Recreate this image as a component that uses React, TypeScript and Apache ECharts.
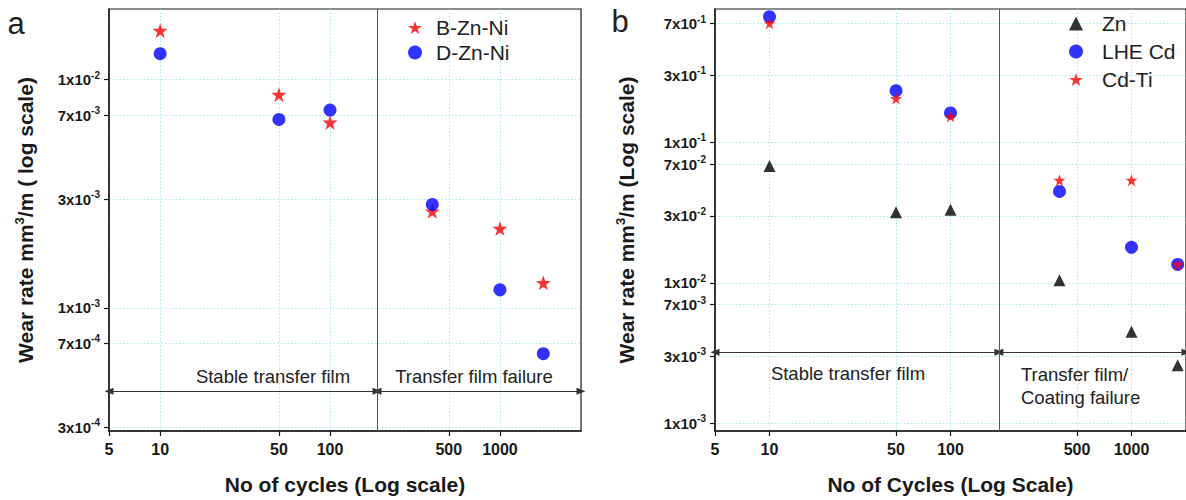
import React, { useEffect, useRef } from 'react';
import * as echarts from 'echarts';

// ---------- data ----------
const cyclesA = [10, 50, 100, 400, 1000, 1800];
const bZnNi = [0.0164, 0.0086, 0.0065, 0.00265, 0.00223, 0.00129];
const dZnNi = [0.013, 0.0067, 0.00736, 0.00284, 0.0012, 0.00063];

const cyclesB = [10, 50, 100, 400, 1000, 1800];
const zn = [0.0679, 0.0318, 0.0331, 0.0104, 0.00448, 0.00259];
const lheCd = [0.785, 0.233, 0.162, 0.0447, 0.0179, 0.0135];
const cdTi = [0.704, 0.205, 0.153, 0.0537, 0.0537, 0.0135];

const xTicks = [5, 10, 50, 100, 500, 1000];
const yTicksA = [3e-4, 7e-4, 1e-3, 3e-3, 7e-3, 1e-2];
const yTicksB = [1e-3, 3e-3, 7e-3, 1e-2, 3e-2, 7e-2, 1e-1, 3e-1, 7e-1];

const xRangeA = [5, 3000];
const xRangeB = [5, 2000];
const yRangeA = [2.89e-4, 2.04e-2];
const yRangeB = [8.8e-4, 0.89];

const boundaryA = 189; // stable film -> failure (cycles)
const boundaryB = 185;
const arrowLevelA = 4.32e-4;
const arrowLevelB = 3.2e-3;

const STAR =
  'path://M50,0 L61.8,35.1 L98.9,35.1 L68.9,56.9 L80.2,92.1 L50,70.4 L19.8,92.1 L31.1,56.9 L1.1,35.1 L38.2,35.1 Z';

const FONT = '"Liberation Sans", Arial, Helvetica, sans-serif';
const INK = '#1a1a1a';
const GRIDC = '#8fe2e8';

const sciLabel = (v: number) => {
  const e = Math.floor(Math.log10(v) + 1e-9);
  const m = Math.round(v / Math.pow(10, e));
  return `{m|${m}x10}{s|${e}}`;
};

const yRich = {
  m: { fontSize: 15, fontWeight: 'bold', color: INK, fontFamily: FONT },
  s: { fontSize: 10, fontWeight: 'bold', color: INK, fontFamily: FONT, lineHeight: 10, padding: [0, 0, 9, 0] },
};

const pairs = (xs: number[], ys: number[]) => xs.map((x, i) => [x, ys[i]]);

const gridLineStyle = { color: GRIDC, type: [1.5, 2], width: 1, opacity: 0.8 };

function makeX(idx: number, range: number[], name: string) {
  return {
    type: 'log',
    gridIndex: idx,
    logBase: 10,
    min: range[0],
    max: range[1],
    name,
    nameLocation: 'middle',
    nameGap: 43,
    nameTextStyle: { fontSize: 21, fontWeight: 'bold', color: INK, fontFamily: FONT },
    axisLine: { show: true, lineStyle: { color: INK, width: 1.5 } },
    axisTick: { show: true, inside: false, length: 5, lineStyle: { color: INK, width: 1.2 }, customValues: xTicks },
    axisLabel: {
      customValues: xTicks,
      margin: 10,
      fontSize: 16,
      fontWeight: 'bold',
      color: INK,
      fontFamily: FONT,
      formatter: (v: number) => String(Math.round(v)),
    },
    splitLine: { show: true, lineStyle: gridLineStyle },
  };
}

function makeY(idx: number, range: number[], ticks: number[], nameParts: string[], gap: number) {
  return {
    type: 'log',
    gridIndex: idx,
    logBase: 10,
    min: range[0],
    max: range[1],
    name: `{t|${nameParts[0]}}{s|3}{t|${nameParts[1]}}`,
    nameLocation: 'middle',
    nameGap: gap,
    nameRotate: 90,
    nameTextStyle: {
      rich: {
        t: { fontSize: 21, fontWeight: 'bold', color: INK, fontFamily: FONT },
        s: { fontSize: 13, fontWeight: 'bold', color: INK, fontFamily: FONT, lineHeight: 13, padding: [0, 0, 12, 0] },
      },
    },
    axisLine: { show: true, lineStyle: { color: INK, width: 1.5 } },
    axisTick: { show: true, inside: false, length: 5, lineStyle: { color: INK, width: 1.2 }, customValues: ticks },
    axisLabel: {
      customValues: ticks,
      margin: 9,
      formatter: (v: number) => sciLabel(v),
      rich: yRich,
    },
    splitLine: { show: true, lineStyle: gridLineStyle },
  };
}

const arrowLine = (x0: number, x1: number, yv: number, x2: number) => ({
  silent: true,
  symbol: ['triangle', 'triangle'],
  symbolSize: [7, 9],
  label: { show: false },
  emphasis: { disabled: true },
  lineStyle: { color: '#333', width: 1, type: 'solid' },
  data: [
    [{ coord: [x0, yv] }, { coord: [x1, yv] }],
    [{ coord: [x1, yv] }, { coord: [x2, yv] }],
  ],
});

const divider = (xv: number) => ({
  silent: true,
  symbol: ['none', 'none'],
  label: { show: false },
  emphasis: { disabled: true },
  lineStyle: { color: '#555', width: 1, type: 'solid' },
  data: [{ xAxis: xv }],
});

const textEl = (text: string, x: number, y: number, align: string, size = 18.5) => ({
  type: 'text',
  x,
  y,
  silent: true,
  style: {
    text,
    fill: '#222',
    fontSize: size,
    fontFamily: FONT,
    align,
    textAlign: align,
    verticalAlign: 'middle',
    textVerticalAlign: 'middle',
  },
});

export default function App() {
  const ref = useRef<HTMLDivElement>(null);
  useEffect(() => {
    if (!ref.current) return;
    const chart = echarts.init(ref.current, null, { renderer: 'svg' });
    const option = {
      animation: false,
      backgroundColor: '#ffffff',
      textStyle: { fontFamily: FONT },
      grid: [
        { left: 109, top: 9, width: 472, height: 424, show: true, borderColor: INK, borderWidth: 1.2, containLabel: false },
        { left: 715, top: 9, width: 475, height: 424, show: true, borderColor: INK, borderWidth: 1.2, containLabel: false },
      ],
      xAxis: [makeX(0, xRangeA, 'No of cycles (Log scale)'), makeX(1, xRangeB, 'No of Cycles (Log Scale)')],
      yAxis: [
        makeY(0, yRangeA, yTicksA, ['Wear rate mm', '/m ( log scale)'], 73),
        makeY(1, yRangeB, yTicksB, ['Wear rate mm', '/m (Log scale)'], 78),
      ],
      legend: [
        {
          left: 403,
          top: 12,
          orient: 'vertical',
          itemWidth: 14,
          itemHeight: 14,
          itemGap: 4,
          data: ['B-Zn-Ni', 'D-Zn-Ni'],
          textStyle: { fontSize: 21, color: '#222', fontFamily: FONT, padding: [0, 0, 0, 9] },
          selectedMode: false,
        },
        {
          left: 1064,
          top: 8,
          orient: 'vertical',
          itemWidth: 14,
          itemHeight: 14,
          itemGap: 7,
          data: ['Zn', 'LHE Cd', 'Cd-Ti'],
          textStyle: { fontSize: 21, color: '#222', fontFamily: FONT, padding: [0, 0, 0, 14] },
          selectedMode: false,
        },
      ],
      series: [
        {
          type: 'scatter',
          name: 'B-Zn-Ni',
          xAxisIndex: 0,
          yAxisIndex: 0,
          data: pairs(cyclesA, bZnNi),
          symbol: STAR,
          symbolSize: 15,
          itemStyle: { color: '#ff0000' },
          markLine: arrowLine(xRangeA[0], boundaryA, arrowLevelA, xRangeA[1]),
        },
        {
          type: 'scatter',
          name: 'D-Zn-Ni',
          xAxisIndex: 0,
          yAxisIndex: 0,
          data: pairs(cyclesA, dZnNi),
          symbol: 'circle',
          symbolSize: 13,
          itemStyle: { color: '#0000ff' },
          markLine: divider(boundaryA),
        },
        {
          type: 'scatter',
          name: 'Zn',
          xAxisIndex: 1,
          yAxisIndex: 1,
          data: pairs(cyclesB, zn),
          symbol: 'triangle',
          symbolSize: 12,
          itemStyle: { color: '#000000' },
          markLine: arrowLine(xRangeB[0], boundaryB, arrowLevelB, xRangeB[1]),
        },
        {
          type: 'scatter',
          name: 'LHE Cd',
          xAxisIndex: 1,
          yAxisIndex: 1,
          data: pairs(cyclesB, lheCd),
          symbol: 'circle',
          symbolSize: 13,
          itemStyle: { color: '#0000ff' },
          markLine: divider(boundaryB),
        },
        {
          type: 'scatter',
          name: 'Cd-Ti',
          xAxisIndex: 1,
          yAxisIndex: 1,
          data: pairs(cyclesB, cdTi),
          symbol: STAR,
          symbolSize: 12,
          itemStyle: { color: '#ff0000' },
        },
      ],
      graphic: [
        textEl('a', 16, 23, 'center', 31),
        textEl('b', 620, 21, 'center', 31),
        textEl('Stable transfer film', 273, 376, 'center'),
        textEl('Transfer film failure', 474, 376, 'center'),
        textEl('Stable transfer film', 848, 373, 'center'),
        textEl('Transfer film/', 1021, 374, 'left'),
        textEl('Coating failure', 1021, 397, 'left'),
      ],
    };
    chart.setOption(option as any);
    return () => chart.dispose();
  }, []);
  return <div ref={ref} style={{ position: 'fixed', left: 0, top: 0, width: 1186, height: 500 }} />;
}
